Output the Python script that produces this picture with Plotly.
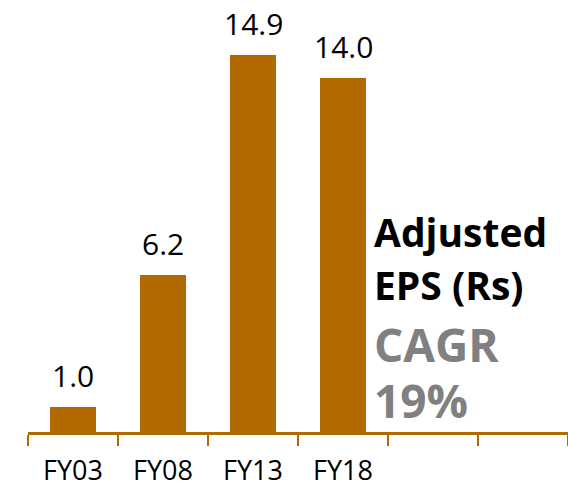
import plotly.graph_objects as go

categories = ["FY03", "FY08", "FY13", "FY18"]
slots = ["FY03", "FY08", "FY13", "FY18", " ", "  "]
eps_values = [1.0, 6.2, 14.9, 14.0]
value_labels = ["1.0", "6.2", "14.9", "14.0"]

bar_color = "#B26A00"
font_family = "Open Sans, Noto Sans, DejaVu Sans, sans-serif"

fig = go.Figure()
fig.add_trace(go.Bar(
    x=categories,
    y=eps_values,
    width=0.52,
    marker=dict(color=bar_color, line=dict(width=0)),
    hoverinfo="skip",
))

# value labels above bars
for c, v, t in zip(categories, eps_values, value_labels):
    fig.add_annotation(
        x=c, y=v, text=t, showarrow=False,
        xanchor="center", yanchor="bottom", yshift=9,
        font=dict(family=font_family, size=30, color="#000000"),
    )

# side texts
side = [
    ("<b>Adjusted</b>", 231, "#000000", 39),
    ("<b>EPS (Rs)</b>", 284, "#000000", 39),
    ("<b>CAGR</b>", 344, "#808080", 46),
    ("<b>19%</b>", 400, "#808080", 46),
]
for txt, ypx, col, sz in side:
    fig.add_annotation(
        x=(372 - 28) / 540, xref="paper", y=(432 - ypx) / 432, yref="paper",
        text=txt, showarrow=False,
        xanchor="left", yanchor="middle",
        font=dict(family=font_family, size=sz, color=col),
    )

fig.update_layout(
    width=568, height=487,
    margin=dict(l=28, r=0, t=0, b=55, autoexpand=False),
    paper_bgcolor="white", plot_bgcolor="white",
    showlegend=False,
    bargap=0,
    xaxis=dict(
        type="category",
        categoryorder="array", categoryarray=slots,
        range=[-0.5, 5.5],
        tickson="boundaries",
        ticks="outside", ticklen=11, tickwidth=2, tickcolor=bar_color,
        showline=True, linecolor=bar_color, linewidth=3,
        showgrid=False, zeroline=False,
        tickfont=dict(family=font_family, size=27, color="#000000"),
        ticklabelstandoff=13,
        automargin=False,
        fixedrange=True,
    ),
    yaxis=dict(
        range=[0, 432 / 25.3],
        visible=False, showgrid=False, zeroline=False,
        automargin=False,
        fixedrange=True,
    ),
)

fig.write_html(
    "out.html",
    config={"displayModeBar": False, "staticPlot": True},
    post_script="document.body.style.margin='0';document.body.style.overflow='hidden';",
)
